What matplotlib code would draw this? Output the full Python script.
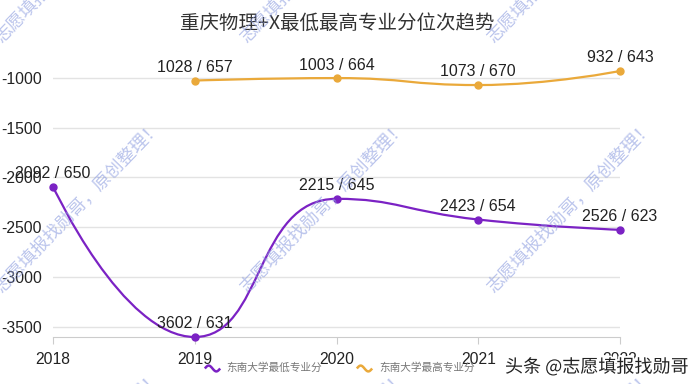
import numpy as np
import matplotlib
matplotlib.use("Agg")
import matplotlib.pyplot as plt
from matplotlib.path import Path
from matplotlib.patches import PathPatch
from matplotlib.lines import Line2D
import matplotlib.patheffects as pe

# data
years = [2018, 2019, 2020, 2021, 2022]
low_rank = [2092, 3602, 2215, 2423, 2526]
low_score = [650, 631, 645, 654, 623]
high_years = [2019, 2020, 2021, 2022]
high_rank = [1028, 1003, 1073, 932]
high_score = [657, 664, 670, 643]
yticks = [-1000, -1500, -2000, -2500, -3000, -3500]

title = "重庆物理+X最低最高专业分位次趋势"
low_name = "东南大学最低专业分"
high_name = "东南大学最高专业分"
watermark = "志愿填报找勋哥，原创整理！"
footer = "头条 @志愿填报找勋哥"

PURPLE = "#7b22c4"
ORANGE = "#eaa93a"
CJK = ["Noto Sans CJK SC", "DejaVu Sans"]
NUM = ["Liberation Sans", "DejaVu Sans"]

plt.rcParams["font.family"] = NUM


def smooth_path(px, py, smooth=0.5):
    # echarts-like bezier smoothing with extreme constraint, in pixel space
    n = len(px)
    verts = [(px[0], py[0])]
    codes = [Path.MOVETO]
    cpx0, cpy0 = px[0], py[0]
    for i in range(1, n):
        x, y = px[i], py[i]
        prevX, prevY = px[i - 1], py[i - 1]
        if i == n - 1:
            cpx1, cpy1 = x, y
            ncx, ncy = x, y
        else:
            nextX, nextY = px[i + 1], py[i + 1]
            vx = nextX - prevX
            vy = nextY - prevY
            lp = np.hypot(x - prevX, y - prevY)
            ln = np.hypot(nextX - x, nextY - y)
            r = ln / (ln + lp)
            ncx = x + vx * smooth * r
            ncy = y + vy * smooth * r
            ncx = max(min(ncx, max(nextX, x)), min(nextX, x))
            ncy = max(min(ncy, max(nextY, y)), min(nextY, y))
            vx = ncx - x
            vy = ncy - y
            cpx1 = x - vx * lp / ln
            cpy1 = y - vy * lp / ln
            cpx1 = max(min(cpx1, max(prevX, x)), min(prevX, x))
            cpy1 = max(min(cpy1, max(prevY, y)), min(prevY, y))
            vx = x - cpx1
            vy = y - cpy1
            ncx = x + vx * ln / lp
            ncy = y + vy * ln / lp
        verts += [(cpx0, cpy0), (cpx1, cpy1), (x, y)]
        codes += [Path.CURVE4] * 3
        cpx0, cpy0 = ncx, ncy
    return verts, codes


fig = plt.figure(figsize=(7, 3.84), dpi=100)
ax = fig.add_axes([53 / 700, 1 - 337 / 384, 567 / 700, 266 / 384])
ax.set_xlim(2018, 2022)
ax.set_ylim(-3602, -932)

for yrs, ranks, scores, col in [(years, low_rank, low_score, PURPLE),
                                (high_years, high_rank, high_score, ORANGE)]:
    yv = [-r for r in ranks]
    pts = ax.transData.transform(np.column_stack([yrs, yv]))
    verts, codes = smooth_path(pts[:, 0], pts[:, 1])
    dverts = ax.transData.inverted().transform(np.array(verts))
    ax.add_patch(PathPatch(Path(dverts, codes), facecolor="none", edgecolor=col,
                           lw=1.6, clip_on=False, zorder=3))
    ax.plot(yrs, yv, "o", color=col, ms=5, clip_on=False, zorder=4)
    for xx, r, s in zip(yrs, ranks, scores):
        ax.annotate(f"{r} / {s}", (xx, -r), xytext=(0, 4), textcoords="offset points",
                    ha="center", va="bottom", fontsize=11.5, color="#222", zorder=5)

ax.set_yticks(yticks)
ax.set_yticklabels([str(t) for t in yticks])
ax.set_xticks(years)
ax.grid(axis="y", color="#e3e3e3", lw=1)
ax.set_axisbelow(True)
for s in ["top", "right", "left"]:
    ax.spines[s].set_visible(False)
ax.spines["bottom"].set_color("#cccccc")
ax.tick_params(axis="y", length=0, pad=8, labelsize=11.3, labelcolor="#222")
ax.tick_params(axis="x", length=5, color="#cccccc", pad=6, labelsize=11.3, labelcolor="#222")

fig.text(337 / 700, 1 - 23 / 384, title, ha="center", va="center", fontsize=14,
         color="#333", family=CJK)

# legend with wavy icons
t = np.linspace(0, 2 * np.pi, 30)
wave = Path(np.column_stack([t - np.pi, np.sin(t) * 1.2]),
            [Path.MOVETO] + [Path.LINETO] * 29)
handles = [Line2D([], [], ls="none", marker=wave, ms=11, mew=1.8, mfc="none", color=PURPLE),
           Line2D([], [], ls="none", marker=wave, ms=11, mew=1.8, mfc="none", color=ORANGE)]
fig.legend(handles, [low_name, high_name], loc="center", ncol=2, frameon=False,
           bbox_to_anchor=(340 / 700, 1 - 368 / 384), prop={"family": CJK, "size": 7.7},
           labelcolor="#777", handlelength=1.2, handletextpad=0.8, columnspacing=3.3)

# watermarks
for y0 in [40, 290, 540]:
    for x0 in [-2, 243, 490]:
        fig.text(x0 / 700, 1 - y0 / 384, watermark, rotation=46, rotation_mode="anchor",
                 ha="left", va="center", fontsize=12.8, color="#8e9ee0", alpha=0.6,
                 family=CJK, zorder=10)

fig.text(688 / 700, 1 - 367 / 384, footer, ha="right", va="center", fontsize=13,
         color="#222", family=CJK, zorder=11,
         path_effects=[pe.withStroke(linewidth=2.5, foreground="white")])

fig.savefig("out.png", dpi=100)
